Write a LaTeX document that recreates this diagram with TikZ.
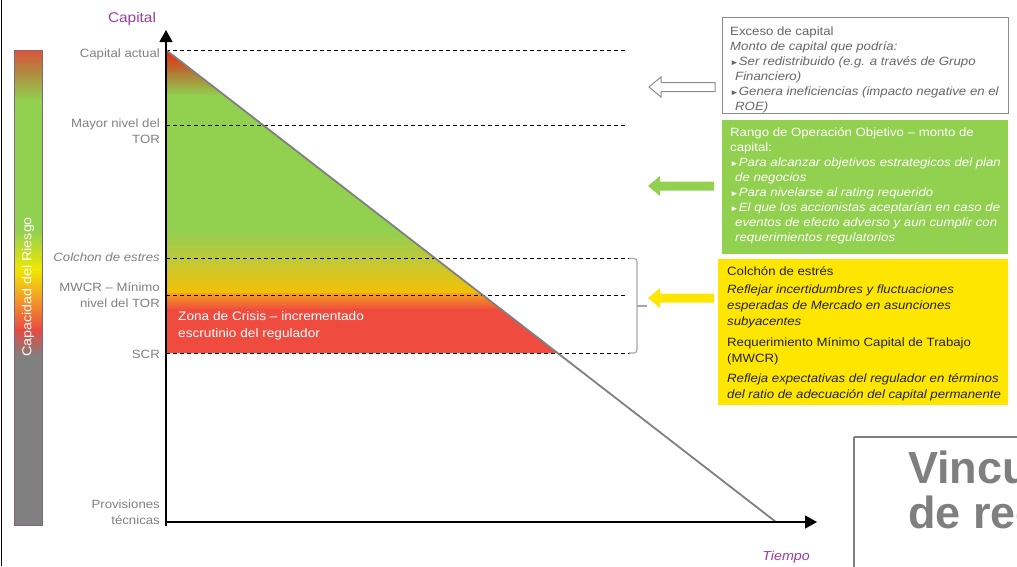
\documentclass[tikz,border=0pt]{standalone}
\usepackage{fontspec}
\setmainfont{Liberation Sans}[FakeStretch=1.1]
\newfontfamily\panelfont{Liberation Sans}
\usetikzlibrary{arrows.meta}

\definecolor{eygreen}{HTML}{92D050}
\definecolor{eyyellow}{HTML}{FFE600}
\definecolor{crisis}{HTML}{EF4B3F}
\definecolor{axislabel}{HTML}{9C3A9E}
\definecolor{labelgray}{HTML}{808080}
\definecolor{boxgray}{HTML}{666666}
\definecolor{linegray}{HTML}{808080}
\definecolor{bracketgray}{HTML}{A6A6A6}
\definecolor{framegray}{HTML}{8C8C8C}
\definecolor{paneltext}{HTML}{7F7F7F}
\definecolor{darktext}{HTML}{222222}
% bar gradient stops
\definecolor{barTop}{HTML}{E0503A}
\definecolor{barBrown}{HTML}{B08A40}
\definecolor{barYellow}{HTML}{F0E800}
\definecolor{barOrange}{HTML}{F39A28}
\definecolor{barRed}{HTML}{E84A40}
% zone gradient stops
\definecolor{zoneTop}{HTML}{F0200F}
\definecolor{zoneBrown}{HTML}{B07A35}
\definecolor{zoneLime}{HTML}{BFC93A}
\definecolor{zoneAmber}{HTML}{F5C000}
\definecolor{zoneOrange}{HTML}{F5A020}

\newcommand\tri{{\fontsize{8}{8}\selectfont ►}}
\newcommand\firstline{\rule{0pt}{10pt}}

\tikzset{
  level/.style={draw=black, line width=0.9pt, dash pattern=on 4pt off 3pt},
  ylabel/.style={font=\fontsize{12}{16}\selectfont, text=labelgray, inner sep=0pt, align=right, anchor=base east},
  boxtext/.style={font=\fontsize{12}{15}\selectfont, inner sep=0pt, align=left, anchor=north west},
  blockarrow/.pic={
    \path[pic actions] (0,0) -- (12,-10) -- (12,-4.5) -- (66,-4.5) -- (66,4.5) -- (12,4.5) -- (12,10) -- cycle;
  },
}

\begin{document}
\begin{tikzpicture}[x=1pt, y=-1pt]
\useasboundingbox (0,0) rectangle (1017,566);
\clip (0,0) rectangle (1017,566);

% frame edge on the left
\draw[black, line width=1pt] (1,0) -- (1,566);

% risk capacity bar
\begin{scope}
  \clip (14,50) rectangle (42,525);
  \shade[top color=barTop, bottom color=barBrown] (14,49) rectangle (42,72);
  \shade[top color=barBrown, bottom color=eygreen] (14,72) rectangle (42,100);
  \fill[eygreen] (14,100) rectangle (42,232);
  \shade[top color=eygreen, bottom color=barYellow] (14,231) rectangle (42,270);
  \shade[top color=barYellow, bottom color=barOrange] (14,269) rectangle (42,300);
  \shade[top color=barOrange, bottom color=barRed] (14,299) rectangle (42,330);
  \shade[top color=barRed, bottom color=linegray] (14,329) rectangle (42,356);
  \fill[linegray] (14,355) rectangle (42,526);
\end{scope}
\draw[linegray!80!violet, line width=0.6pt] (14,50) rectangle (42,525);
\node[rotate=90, text=white, font=\fontsize{13}{15}\selectfont, inner sep=0pt] (barlabel) at (28,287) {Capacidad del Riesgo};

% coloured capital zone under the depletion line
\begin{scope}
  \clip (166,50) -- (166,353) -- (557.6,353) -- cycle;
  \shade[top color=zoneTop, bottom color=zoneBrown] (166,49) rectangle (560,73);
  \shade[top color=zoneBrown, bottom color=eygreen] (166,72) rectangle (560,96);
  \fill[eygreen] (166,95) rectangle (560,231);
  \shade[top color=eygreen, bottom color=zoneLime] (166,230) rectangle (560,259);
  \shade[top color=zoneLime, bottom color=zoneAmber] (166,258) rectangle (560,294);
  \shade[top color=zoneOrange, bottom color=crisis] (166,293) rectangle (560,310);
  \fill[crisis] (166,309) rectangle (560,354);
\end{scope}

% threshold levels
\draw[level] (166,50) -- (628,50);
\draw[level] (166,125) -- (628,125);
\draw[level] (166,258.5) -- (630,258.5);
\draw[level] (166,295) -- (627,295);
\draw[level] (166,353) -- (630,353);

% bracket grouping stress buffer and MWCR
\draw[bracketgray, line width=1.2pt, rounded corners=3pt]
  (629,258.5) -- (637,258.5) -- (637,353) -- (629,353);
\draw[bracketgray, line width=1.2pt] (637,306) -- (647,306);

% capital depletion line
\draw[linegray, line width=1.8pt] (166,50) -- (776,522);

% axes
\draw[black, line width=1.2pt, -{Triangle[length=12pt, width=13pt]}] (166,526) -- (166,30);
\draw[black, line width=1.2pt, -{Triangle[length=12pt, width=13pt]}] (166,522) -- (817,522);
\node[text=axislabel, font=\fontsize{14}{16}\selectfont, anchor=base, inner sep=0pt] (capital) at (132,22) {Capital};
\node[text=axislabel, font=\fontsize{13}{15}\itshape, anchor=base east, inner sep=0pt] (tiempo) at (810,560) {Tiempo};

% level labels (anchored on their last line)
\node[ylabel] (lcap) at (160,57) {Capital actual};
\node[ylabel] (ltor) at (160,143) {Mayor nivel del\\TOR};
\node[ylabel, font=\fontsize{12}{16}\itshape] (lcol) at (160,261) {Colchon de estres};
\node[ylabel] (lmwcr) at (160,307) {MWCR – Mínimo\\nivel del TOR};
\node[ylabel] (lscr) at (160,358) {SCR};
\node[ylabel] (lprov) at (160,524) {Provisiones\\técnicas};

\node[text=white, font=\fontsize{12.4}{16.5}\selectfont, inner sep=0pt, align=left, anchor=base west] (crisislbl) at (178,337) {Zona de Crisis – incrementado\\escrutinio del regulador};

% explanation boxes
\draw[framegray, fill=white, line width=1pt] (722,17) rectangle (1008,113);
\node[boxtext, text=boxgray] (excess) at (730,25) {\firstline Exceso de capital\\
\textit{Monto de capital que podría:}\\
\tri\textit{Ser redistribuido (e.g. a través de Grupo}\\
\hspace*{5pt}\textit{Financiero)}\\
\tri\textit{Genera ineficiencias (impacto negative en el}\\
\hspace*{5pt}\textit{ROE)}};

\fill[eygreen] (722,120) rectangle (1008,254);
\node[boxtext, text=white] (target) at (730,126) {\firstline Rango de Operación Objetivo – monto de\\
capital:\\
\tri\textit{Para alcanzar objetivos estrategicos del plan}\\
\hspace*{5pt}\textit{de negocios}\\
\tri\textit{Para nivelarse al rating requerido}\\
\tri\textit{El que los accionistas aceptarían en caso de}\\
\hspace*{5pt}\textit{eventos de efecto adverso y aun cumplir con}\\
\hspace*{5pt}\textit{requerimientos regulatorios}};

\fill[eyyellow] (718,259) rectangle (1008,405);
\node[boxtext, text=darktext, font=\fontsize{12}{16}\selectfont] (stress) at (727,265) {\firstline Colchón de estrés\\[2.5pt]
\textit{Reflejar incertidumbres y fluctuaciones}\\
\textit{esperadas de Mercado en asunciones}\\
\textit{subyacentes}\\[4.5pt]
Requerimiento Mínimo Capital de Trabajo\\
(MWCR)\\[4pt]
\textit{Refleja expectativas del regulador en términos}\\
\textit{del ratio de adecuación del capital permanente}};

% pointers from the boxes to the chart
\pic[draw=framegray, fill=white, line width=1pt] at (649,87) {blockarrow};
\pic[fill=eygreen] at (648,186) {blockarrow};
\pic[fill=eyyellow] at (648,298) {blockarrow};

% next panel, partly outside the page
\draw[paneltext, line width=1.5pt] (854,437) -- (1030,437) (854,437) -- (854,580);
\node[text=paneltext, font=\panelfont\fontsize{45}{45}\bfseries, inner sep=0pt, align=left, anchor=base west] (panel) at (908,528) {Vincu\\de rec};

\end{tikzpicture}
\end{document}
